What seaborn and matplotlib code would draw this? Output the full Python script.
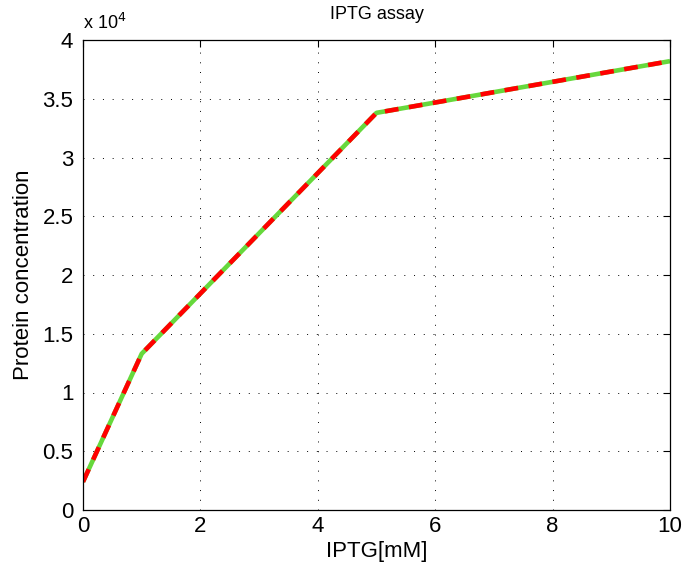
import matplotlib
matplotlib.use("Agg")
import matplotlib.pyplot as plt
import seaborn as sns
import pandas as pd

iptg = [0, 1, 5, 10]
protein = [2400, 13300, 33800, 38200]

sns.set_style("white")
plt.rcParams['font.family'] = ['Liberation Sans', 'DejaVu Sans']
plt.rcParams['text.color'] = 'black'
plt.rcParams['axes.labelcolor'] = 'black'
plt.rcParams['xtick.color'] = 'black'
plt.rcParams['ytick.color'] = 'black'

df = pd.DataFrame({"IPTG": iptg, "Protein": protein})

fig = plt.figure(figsize=(6.83, 5.71), dpi=100)
ax = fig.add_axes([83/683, 61/571, 587/683, 470/571])

sns.lineplot(data=df, x="IPTG", y="Protein", ax=ax, color="#66d83c", lw=3.3,
             solid_capstyle='butt')
sns.lineplot(data=df, x="IPTG", y="Protein", ax=ax, color="#ff0000", lw=3.3,
             dashes=False)
ax.lines[-1].set_linestyle((0, (3.0, 2.3)))
ax.lines[-1].set_dash_capstyle('butt')

fs = 16
ax.set_xlim(0, 10)
ax.set_ylim(0, 40000)
ax.set_xticks(range(0, 11, 2))
ax.set_yticks([i * 5000 for i in range(9)])
ax.set_yticklabels(['0', '0.5', '1', '1.5', '2', '2.5', '3', '3.5', '4'])
ax.grid(True, linestyle=(0, (1, 9)), color='black', linewidth=0.7)
ax.tick_params(direction='in', top=True, right=True, labelsize=fs, length=5,
               width=0.8, color='black')
ax.tick_params(axis='x', pad=4)
ax.tick_params(axis='y', pad=7)
for s in ax.spines.values():
    s.set_color('black')
    s.set_linewidth(0.9)
ax.set_xlabel("IPTG[mM]", fontsize=fs, labelpad=3)
ax.set_ylabel("Protein concentration", fontsize=fs, labelpad=6)
ax.set_title("IPTG assay", fontsize=13, pad=15)
ax.text(0, 1.014, r"x 10$^4$", transform=ax.transAxes, fontsize=13, va='bottom', ha='left')

fig.savefig("out.png", dpi=100)
